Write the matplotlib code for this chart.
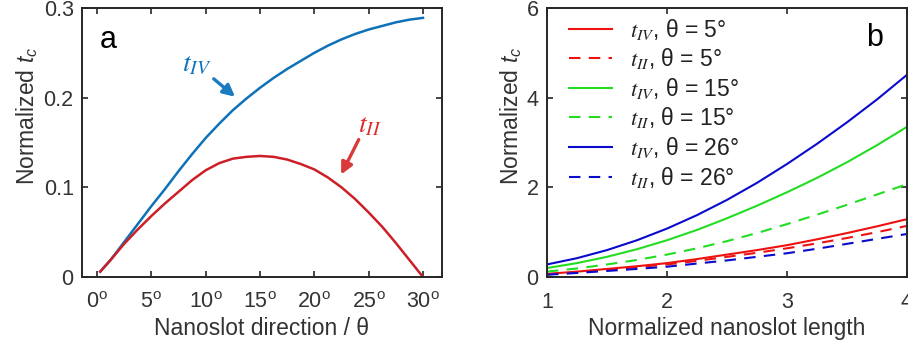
import matplotlib
matplotlib.use("Agg")
import matplotlib.pyplot as plt

plt.rcParams['font.family'] = ['Liberation Sans', 'DejaVu Sans']
plt.rcParams['mathtext.fontset'] = 'custom'
plt.rcParams['mathtext.rm'] = 'Liberation Sans'
plt.rcParams['mathtext.it'] = 'Liberation Sans:italic'
plt.rcParams['mathtext.bf'] = 'Liberation Sans:bold'

# ---- panel a: normalized t_c versus nanoslot direction ----
theta_deg = [0.3, 1.25, 2.5, 3.75, 5, 6.25, 7.5, 8.75, 10, 11.25, 12.5, 13.75, 15,
             16.25, 17.5, 18.75, 20, 21.25, 22.5, 23.75, 25, 26.25, 27.5, 28.75, 30]
t_iv_a = [0.006, 0.019, 0.039, 0.059, 0.079, 0.098, 0.118, 0.137, 0.155, 0.171, 0.186, 0.199, 0.211,
          0.222, 0.232, 0.241, 0.250, 0.258, 0.265, 0.271, 0.276, 0.280, 0.284, 0.287, 0.289]
t_ii_a = [0.006, 0.019, 0.037, 0.053, 0.068, 0.082, 0.095, 0.108, 0.119, 0.127, 0.132, 0.134, 0.135,
          0.134, 0.131, 0.126, 0.120, 0.111, 0.100, 0.087, 0.072, 0.056, 0.038, 0.019, 0.0]
theta_ticks = [0, 5, 10, 15, 20, 25, 30]
ya_ticks = [0, 0.1, 0.2, 0.3]
ya_ticklabels = ['0', '0.1', '0.2', '0.3']

# ---- panel b: normalized t_c versus nanoslot length ----
length = [1, 1.25, 1.5, 1.75, 2, 2.25, 2.5, 2.75, 3, 3.25, 3.5, 3.75, 4]
t_iv_5 = [0.07, 0.12, 0.18, 0.24, 0.31, 0.40, 0.50, 0.60, 0.71, 0.84, 0.98, 1.13, 1.29]
t_ii_5 = [0.06, 0.10, 0.16, 0.22, 0.28, 0.36, 0.45, 0.54, 0.64, 0.75, 0.87, 1.00, 1.14]
t_iv_15 = [0.20, 0.31, 0.45, 0.62, 0.82, 1.05, 1.31, 1.59, 1.89, 2.21, 2.56, 2.94, 3.35]
t_ii_15 = [0.12, 0.19, 0.28, 0.38, 0.50, 0.64, 0.80, 0.98, 1.18, 1.39, 1.61, 1.84, 2.07]
t_iv_26 = [0.28, 0.42, 0.60, 0.82, 1.08, 1.38, 1.72, 2.10, 2.52, 2.97, 3.45, 3.96, 4.51]
t_ii_26 = [0.05, 0.09, 0.135, 0.18, 0.23, 0.30, 0.37, 0.45, 0.53, 0.63, 0.74, 0.85, 0.96]
xb_ticks = [1, 2, 3, 4]
yb_ticks = [0, 2, 4, 6]

W, H = 908, 349
fig = plt.figure(figsize=(W / 100, H / 100), dpi=100)

def px_axes(left, top, right, bottom):
    return fig.add_axes([left / W, 1 - bottom / H, (right - left) / W, (bottom - top) / H])

axc = '#262626'
txt = '#333333'

def style(ax):
    for s in ax.spines.values():
        s.set_linewidth(1.4)
        s.set_color(axc)
    ax.tick_params(direction='in', length=4, width=1.2, top=True, right=True,
                   labelsize=15.5, colors=axc, labelcolor=txt)
    ax.tick_params(axis='x', pad=11)
    ax.tick_params(axis='y', pad=6)

# panel a
ax1 = px_axes(82, 8, 442, 277)
blue_a = '#0E72B8'
red_a = '#CC1F27'
ax1.plot(theta_deg, t_iv_a, color=blue_a, lw=1.8)
ax1.plot(theta_deg, t_ii_a, color=red_a, lw=1.8)
ax1.set_xlim(-1.38, 31.75)
ax1.set_ylim(0, 0.3)
ax1.set_xticks(theta_ticks)
ax1.set_xticklabels([r'$%d^{\mathrm{o}}$' % t for t in theta_ticks])
ax1.set_yticks(ya_ticks)
ax1.set_yticklabels(ya_ticklabels)
style(ax1)
ax1.set_xlabel('Nanoslot direction / θ', fontsize=16.5, color=txt, labelpad=3)
ax1.set_ylabel(r'Normalized $t_c$', fontsize=16.5, color=txt)
ax1.yaxis.set_label_coords(-0.117, 0.6)
ax1.text(0.05, 0.88, 'a', transform=ax1.transAxes, fontsize=22, ha='left', va='center', color='black')

ax1.text(9.2, 0.2375, r'$t_{IV}$', fontsize=20, color=blue_a, ha='center', va='center',
         math_fontfamily='stix')
ax1.annotate('', xy=(12.9, 0.199), xytext=(10.55, 0.223),
             arrowprops=dict(arrowstyle='-|>,head_length=0.7,head_width=0.35', color='#1A7BC0', lw=2.4))
ax1.text(25.1, 0.1695, r'$t_{II}$', fontsize=20, color='#DA2C2C', ha='center', va='center',
         math_fontfamily='stix')
ax1.annotate('', xy=(22.35, 0.1115), xytext=(24.2, 0.156),
             arrowprops=dict(arrowstyle='-|>,head_length=0.7,head_width=0.35', color='#DA3A3A', lw=2.4))

# panel b
ax2 = px_axes(547, 8, 907, 277)
red_b = '#EE1111'
green_b = '#22DD22'
blue_b = '#0A0ACC'
dash = (5.5, 4.0)
ax2.plot(length, t_iv_5, color=red_b, lw=1.5, label=r'$t_{IV}$, θ = 5°')
ax2.plot(length, t_ii_5, color=red_b, lw=1.5, dashes=dash, label=r'$t_{II}$, θ = 5°')
ax2.plot(length, t_iv_15, color=green_b, lw=1.5, label=r'$t_{IV}$, θ = 15°')
ax2.plot(length, t_ii_15, color=green_b, lw=1.5, dashes=dash, label=r'$t_{II}$, θ = 15°')
ax2.plot(length, t_iv_26, color=blue_b, lw=1.5, label=r'$t_{IV}$, θ = 26°')
ax2.plot(length, t_ii_26, color=blue_b, lw=1.5, dashes=dash, label=r'$t_{II}$, θ = 26°')
ax2.set_xlim(1, 4)
ax2.set_ylim(0, 6)
ax2.set_xticks(xb_ticks)
ax2.set_yticks(yb_ticks)
style(ax2)
ax2.set_xlabel('Normalized nanoslot length', fontsize=16.5, color=txt, labelpad=3)
ax2.set_ylabel(r'Normalized $t_c$', fontsize=16.5, color=txt)
ax2.yaxis.set_label_coords(-0.064, 0.6)
ax2.text(0.911, 0.89, 'b', transform=ax2.transAxes, fontsize=22, ha='center', va='center', color='black')
leg = ax2.legend(loc='upper left', frameon=False, fontsize=16.5, handlelength=1.85,
                 handletextpad=0.8, labelspacing=0.2, borderaxespad=0.0, borderpad=0.0,
                 bbox_to_anchor=(0.062, 0.968))
for t in leg.get_texts():
    t.set_math_fontfamily('stix')
    t.set_color('#222222')

fig.savefig('out.png', dpi=100)
